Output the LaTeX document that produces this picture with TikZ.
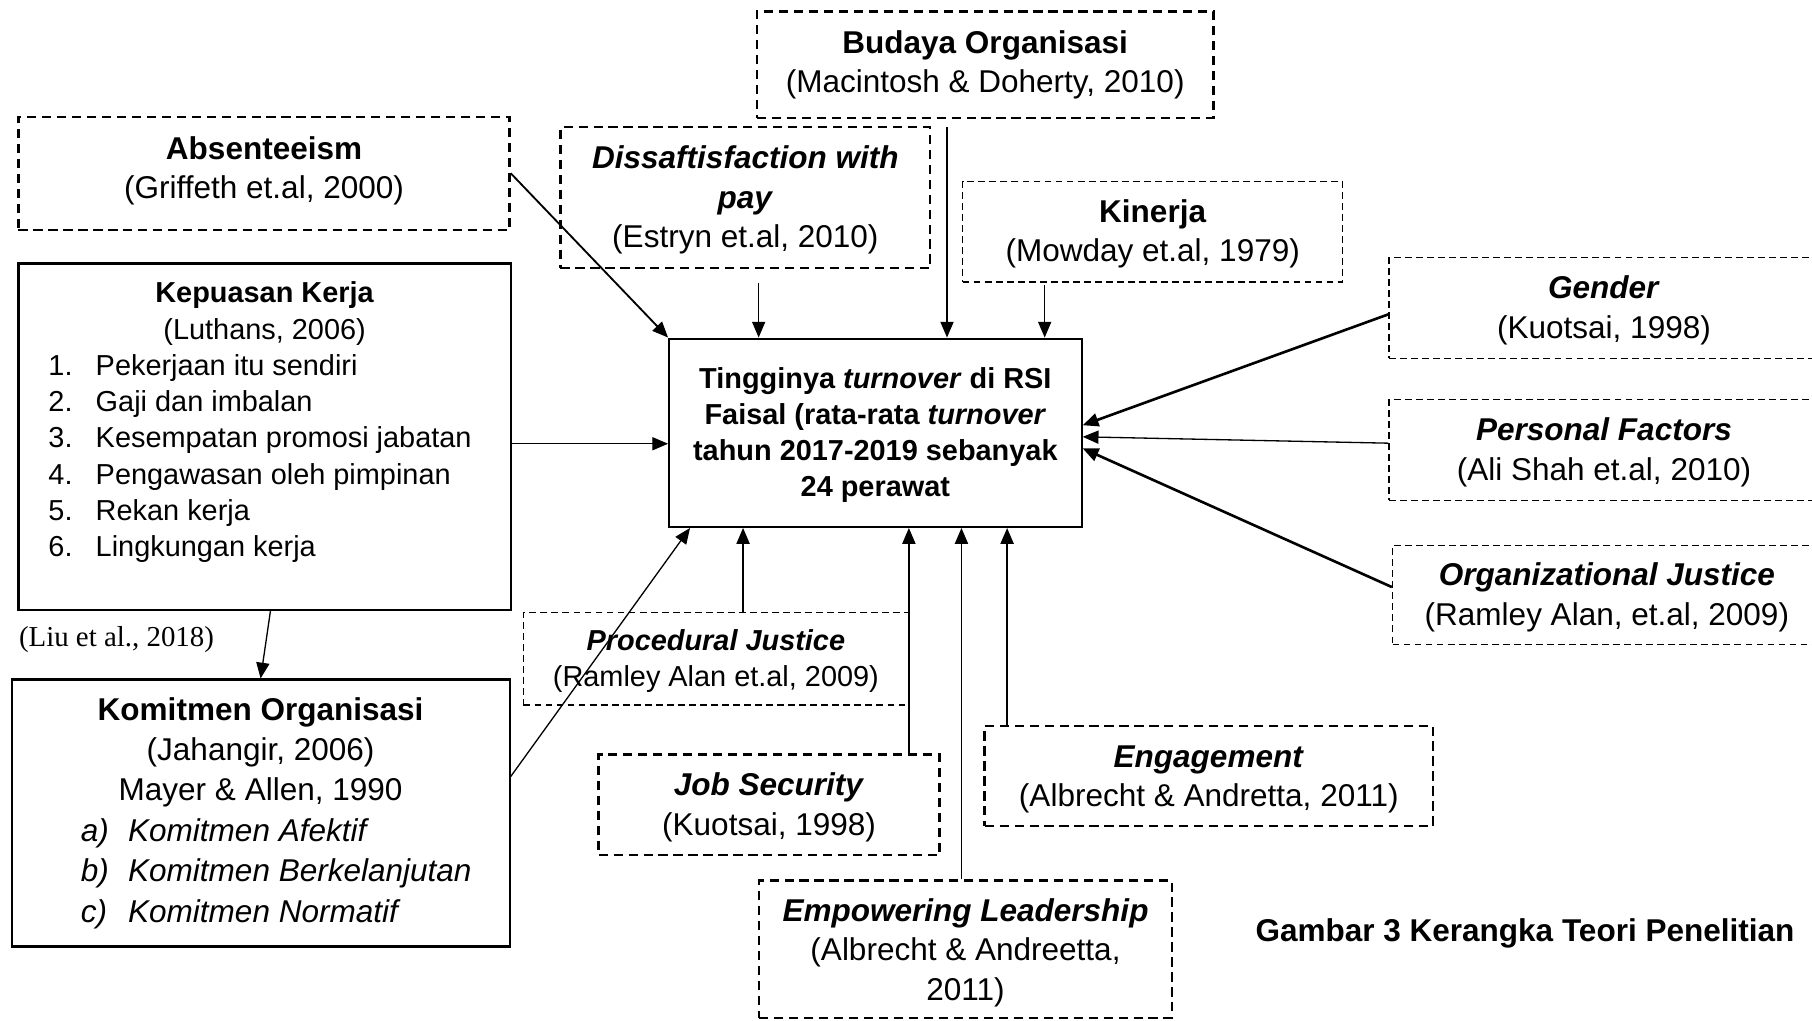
\documentclass[tikz,border=0pt]{standalone}
\usepackage{fontspec}
\setmainfont{Liberation Sans}
\newfontfamily\timesfont{Liberation Serif}
\usepackage{tikz}
\usetikzlibrary{arrows.meta,positioning,calc,fit}

\newcommand{\listline}[3]{\makebox[#1][l]{\makebox[18pt][l]{#2}#3}}

\begin{document}
\begin{tikzpicture}[x=0.44pt,y=-0.44pt,
      font=\fontsize{12}{15}\selectfont,
      solidbox/.style={draw,line width=0.8pt,inner sep=0pt},
      dashbox/.style={draw,line width=0.9pt,dash pattern=on 3.5pt off 2.2pt,inner sep=0pt},
      finebox/.style={draw,line width=0.5pt,dash pattern=on 2.6pt off 1.6pt,inner sep=0pt},
      txt/.style={align=center,inner sep=0pt},
      arr/.style={draw,line width=0.5pt,-{Triangle[length=6pt,width=5pt]}},
      boldarr/.style={arr,line width=1pt}]
    \useasboundingbox (0,0) rectangle (1568,883);
    \node[solidbox,fit={(579,293) (936,456)}] (turn) {};
    \node[txt,font=\bfseries\fontsize{11}{13.6}\selectfont] (turn-t) at ($(turn.center)+(0,2)$)
      {Tingginya \textit{turnover} di RSI\\Faisal (rata-rata \textit{turnover}\\tahun 2017-2019 sebanyak\\24 perawat};
    \node[dashbox,fit={(16,101) (441,199)}] (absent) {};
    \node[txt] (absent-t) at ($(absent.center)+(0,-2)$) {\textbf{Absenteeism}\\(Griffeth et.al, 2000)};
    \node[solidbox,fit={(16,228) (442,528)}] (kepuasan) {};
    \node[txt,font=\fontsize{11}{13.8}\selectfont] (kepuasan-t) at ($(kepuasan.center)+(0,-12.5)$)
      {\textbf{Kepuasan Kerja}\\(Luthans, 2006)\\
       \listline{164.6pt}{1.}{Pekerjaan itu sendiri}\\
       \listline{164.6pt}{2.}{Gaji dan imbalan}\\
       \listline{164.6pt}{3.}{Kesempatan promosi jabatan}\\
       \listline{164.6pt}{4.}{Pengawasan oleh pimpinan}\\
       \listline{164.6pt}{5.}{Rekan kerja}\\
       \listline{164.6pt}{6.}{Lingkungan kerja}};
    \node[anchor=west,inner sep=0pt,font=\timesfont\fontsize{11}{13}\selectfont] (liu) at (16,553) {(Liu et al., 2018)};
    \node[solidbox,fit={(10,588) (441,819)}] (komitmen) {};
    \node[txt,font=\fontsize{12}{15.4}\selectfont] (komitmen-t) at (komitmen.center)
      {\textbf{Komitmen Organisasi}\\(Jahangir, 2006)\\Mayer \& Allen, 1990\\
       \listline{136.8pt}{\textit{a)}}{\textit{Komitmen Afektif}}\\
       \listline{136.8pt}{\textit{b)}}{\textit{Komitmen Berkelanjutan}}\\
       \listline{136.8pt}{\textit{c)}}{\textit{Komitmen Normatif}}};
    \node[dashbox,fit={(485,110) (805,232)}] (dis) {};
    \node[txt] (dis-t) at ($(dis.center)+(0,2)$)
      {\textbf{\textit{Dissaftisfaction with}}\\\textbf{\textit{pay}}\\(Estryn et.al, 2010)};
    \node[dashbox,fit={(655,10) (1050,102)}] (budaya) {};
    \node[txt] (budaya-t) at (budaya.center) {\textbf{Budaya Organisasi}\\(Macintosh \& Doherty, 2010)};
    \node[finebox,fit={(833,157) (1162,244)}] (kinerja) {};
    \node[txt] (kinerja-t) at ($(kinerja.center)+(0,2)$) {\textbf{Kinerja}\\(Mowday et.al, 1979)};
    \node[finebox,fit={(1202,223) (1574,310)}] (gender) {};
    \node[txt] (gender-t) at ($(gender.center)+(0,2)$) {\textbf{\textit{Gender}}\\(Kuotsai, 1998)};
    \node[finebox,fit={(1202,346) (1574,433)}] (personal) {};
    \node[txt] (personal-t) at ($(personal.center)+(0,2)$) {\textbf{\textit{Personal Factors}}\\(Ali Shah et.al, 2010)};
    \node[finebox,fit={(1205,472) (1576,558)}] (orgjust) {};
    \node[txt] (orgjust-t) at ($(orgjust.center)+(0,2)$) {\textbf{\textit{Organizational Justice}}\\(Ramley Alan, et.al, 2009)};
    \node[finebox,fit={(453,530) (786,610)}] (proc) {};
    \node[txt,font=\fontsize{11}{14}\selectfont] (proc-t) at ($(proc.center)+(0,2)$)
      {\textbf{\textit{Procedural Justice}}\\(Ramley Alan et.al, 2009)};
    \node[dashbox,fit={(518,653) (813,740)}] (jobsec) {};
    \node[txt] (jobsec-t) at ($(jobsec.center)+(0,2)$) {\textbf{\textit{Job Security}}\\(Kuotsai, 1998)};
    \node[dashbox,fit={(852,628) (1240,715)}] (engage) {};
    \node[txt] (engage-t) at ($(engage.center)+(0,3)$) {\textbf{\textit{Engagement}}\\(Albrecht \& Andretta, 2011)};
    \node[dashbox,fit={(657,762) (1014,881)}] (empower) {};
    \node[txt] (empower-t) at ($(empower.center)+(0,3)$)
      {\textbf{\textit{Empowering Leadership}}\\(Albrecht \& Andreetta,\\2011)};
    \node[anchor=west,inner sep=0pt,font=\bfseries\fontsize{12}{15}\selectfont] (caption) at (1086,808)
      {Gambar 3 Kerangka Teori Penelitian};

    \draw[arr,line width=0.7pt] (absent.east) -- (turn.north west);
    \draw[arr] ($(kepuasan.east)+(0,6)$) -- ($(turn.west)+(0,9.5)$);
    \draw[arr] ($(kepuasan.south)+(5,0)$) -- (komitmen.north);
    \draw[arr] ($(komitmen.east)+(0,-31.5)$) -- ($(turn.south west)+(19,0)$);
    \draw[boldarr] ($(gender.west)+(0,5.5)$) -- ($(turn.east)+(0,-6.5)$);
    \draw[arr] ($(personal.west)+(0,-6)$) -- ($(turn.east)+(0,3.5)$);
    \draw[boldarr] ($(orgjust.west)+(0,-7)$) -- ($(turn.east)+(0,13.5)$);
    \foreach \src/\dx/\dy in {dis/11.5/11.6, budaya/-33/7, kinerja/-93.5/2} {
      \coordinate (top) at ($(\src.south)+(\dx,\dy)$);
      \draw[arr] (top) -- (top |- turn.north);
    }
    \foreach \src/\dx in {proc/23.5, jobsec/121, empower/-3.5, engage/-174.5} {
      \coordinate (bot) at ($(\src.north)+(\dx,0)$);
      \draw[arr] (bot) -- (bot |- turn.south);
    }
  \end{tikzpicture}
\end{document}
